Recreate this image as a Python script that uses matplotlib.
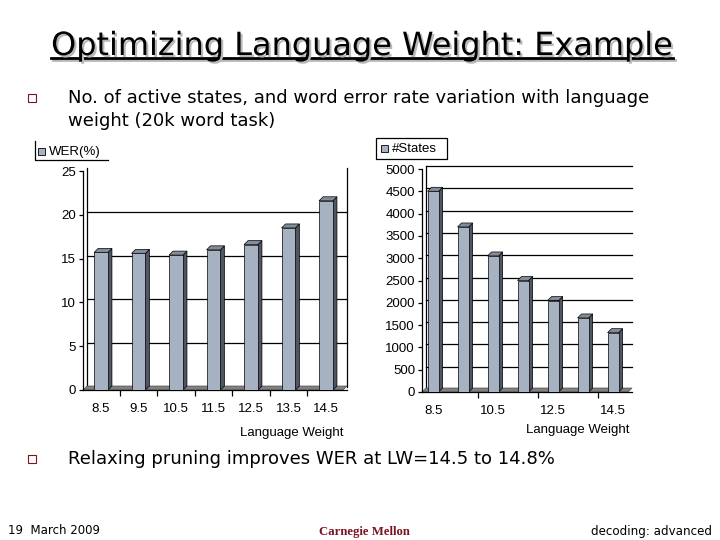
import matplotlib
matplotlib.use("Agg")
import matplotlib.pyplot as plt
import matplotlib.patheffects as pe
from matplotlib.patches import Polygon, Rectangle
from matplotlib.lines import Line2D
import matplotlib.transforms as mtransforms

# data
lang_weight = [8.5, 9.5, 10.5, 11.5, 12.5, 13.5, 14.5]
wer = [15.7, 15.6, 15.4, 16.0, 16.6, 18.5, 21.6]
states = [4500, 3700, 3050, 2500, 2050, 1660, 1330]

W, H = 720, 540
FRONT = "#a6b1c1"
SIDE = "#4f5661"
TOP = "#848c99"
FLOOR = "#808080"
RED = "#7a1420"

fig = plt.figure(figsize=(W / 100, H / 100), dpi=100)
fig.patch.set_facecolor("white")


def fx(x):
    return x / W


def fy(y):
    return 1 - y / H


def bar3d(ax, vals, ticklabels, ylim, yticks, grid_vals, box, xlim,
          width=0.37, depth=4, right_wall=False):
    x0, y0, x1, y1 = box
    ax.set_position([fx(x0), fy(y1), fx(x1) - fx(x0), (y1 - y0) / H])
    ax.set_xlim(*xlim)
    ax.set_ylim(*ylim)
    pxx = (x1 - x0) / (xlim[1] - xlim[0])
    pxy = (y1 - y0) / (ylim[1] - ylim[0])
    dx = depth / pxx
    dy = depth / pxy
    back = mtransforms.offset_copy(ax.transData, fig=fig, x=depth, y=depth - 1, units="dots")
    xa, xb = xlim[0], xlim[1] - dx

    # back wall gridlines and edges
    for g in grid_vals:
        ax.plot([xa, xb], [g, g], color="black", lw=0.9, transform=back, clip_on=False, zorder=1)
    ax.plot([xa, xa], [0, ylim[1]], color="black", lw=0.9, transform=back, clip_on=False, zorder=1)
    if right_wall:
        ax.plot([xb, xb], [0, ylim[1]], color="black", lw=0.9, transform=back, clip_on=False, zorder=1)

    # floor
    ax.add_patch(Polygon([(xa, 0), (xb, 0), (xb + dx, dy), (xa + dx, dy)], closed=True,
                         facecolor=FLOOR, edgecolor="#505050", lw=0.5, zorder=2, clip_on=False))

    pos = list(range(len(vals)))
    for p, v in zip(pos, vals):
        l, r = p - width / 2, p + width / 2
        ax.add_patch(Polygon([(r, 0), (r + dx, dy), (r + dx, v + dy), (r, v)], closed=True,
                             facecolor=SIDE, edgecolor="black", lw=0.5, zorder=3))
        ax.add_patch(Polygon([(l, v), (r, v), (r + dx, v + dy), (l + dx, v + dy)], closed=True,
                             facecolor=TOP, edgecolor="black", lw=0.5, zorder=3))
    ax.bar(pos, vals, width=width, color=FRONT, edgecolor="black", linewidth=0.5, zorder=4)

    for s in ["top", "right"]:
        ax.spines[s].set_visible(False)
    ax.spines["left"].set_linewidth(0.9)
    ax.spines["bottom"].set_linewidth(0.9)
    ax.set_facecolor("none")
    ax.set_yticks(yticks)
    ax.set_yticklabels([str(t) for t in yticks], fontsize=9.5, family="Liberation Sans")
    ax.tick_params(axis="y", length=3, width=0.9, pad=2)
    ax.set_xticks(ticklabels[0])
    ax.set_xticklabels(ticklabels[1], fontsize=9.5, family="Liberation Sans")
    ax.tick_params(axis="x", which="major", length=0, pad=9)
    ax.set_xticks(ticklabels[2], minor=True)
    ax.tick_params(axis="x", which="minor", length=4, width=0.9)


# left chart: WER
axl = fig.add_axes([0, 0, 1, 1])
bar3d(axl, wer,
      (list(range(7)), [str(v) for v in lang_weight], [0.5, 1.5, 2.5, 3.5, 4.5, 5.5]),
      (0, 25), [0, 5, 10, 15, 20, 25], [5, 10, 15, 20],
      (83, 171, 347, 390), (-0.48, 6.56), right_wall=True)

# right chart: #States
axr = fig.add_axes([0, 0, 1, 1])
bar3d(axr, states,
      ([0, 2, 4, 6], [str(lang_weight[i]) for i in [0, 2, 4, 6]], [1.5, 3.5, 5.5]),
      (0, 5000), list(range(0, 5001, 500)), list(range(500, 5001, 500)),
      (422, 169, 632, 392), (-0.37, 6.63))

fig.text(fx(343), fy(433), "Language Weight", ha="right", va="center", fontsize=9.5, family="Liberation Sans")
fig.text(fx(630), fy(430), "Language Weight", ha="right", va="center", fontsize=9.5, family="Liberation Sans")

# legends
fig.add_artist(Line2D([fx(35), fx(35), fx(108)], [fy(141), fy(160), fy(160)], color="black", lw=0.9))
fig.add_artist(Rectangle((fx(38), fy(155)), 7 / W, 7 / H, facecolor=FRONT, edgecolor="black", lw=0.6))
fig.text(fx(49), fy(151.5), "WER(%)", ha="left", va="center", fontsize=9.5, family="Liberation Sans")
fig.add_artist(Rectangle((fx(376), fy(159)), 71 / W, 21 / H, facecolor="none", edgecolor="black", lw=0.9))
fig.add_artist(Rectangle((fx(381), fy(152)), 7 / W, 7 / H, facecolor=FRONT, edgecolor="black", lw=0.6))
fig.text(fx(392), fy(148.5), "#States", ha="left", va="center", fontsize=9.5, family="Liberation Sans")

# slide title with shadow and underline
title = "Optimizing Language Weight: Example"
t = fig.text(fx(362), fy(55), title, ha="center", va="baseline", fontsize=23, color="black",
             path_effects=[pe.SimplePatchShadow(offset=(1.5, -1.5), shadow_rgbFace="#b8b8b8", alpha=1),
                           pe.Normal()])
fig.canvas.draw()
bb = t.get_window_extent()
fig.add_artist(Line2D([bb.x0 / W + 2 / W, bb.x1 / W + 2 / W], [fy(59.5), fy(59.5)], color="#b8b8b8", lw=2))
fig.add_artist(Line2D([bb.x0 / W, bb.x1 / W], [fy(58), fy(58)], color="black", lw=2))

# bullets
for by in [98, 459]:
    fig.add_artist(Rectangle((fx(28), fy(by + 4)), 8 / W, 8 / H,
                             facecolor="none", edgecolor=RED, lw=0.8))
fig.text(fx(68), fy(98), "No. of active states, and word error rate variation with language",
         ha="left", va="center", fontsize=13)
fig.text(fx(68), fy(121), "weight (20k word task)", ha="left", va="center", fontsize=13)
fig.text(fx(68), fy(459), "Relaxing pruning improves WER at LW=14.5 to 14.8%",
         ha="left", va="center", fontsize=13)

# footer
fig.text(fx(8), fy(531), "19  March 2009", ha="left", va="center", fontsize=8.5)
fig.text(fx(364), fy(532), "Carnegie Mellon", ha="center", va="center", fontsize=9.2,
         family="Liberation Serif", weight="bold", color=RED)
fig.text(fx(712), fy(531), "decoding: advanced", ha="right", va="center", fontsize=8.6)

fig.savefig("out.png", dpi=100, facecolor="white")
